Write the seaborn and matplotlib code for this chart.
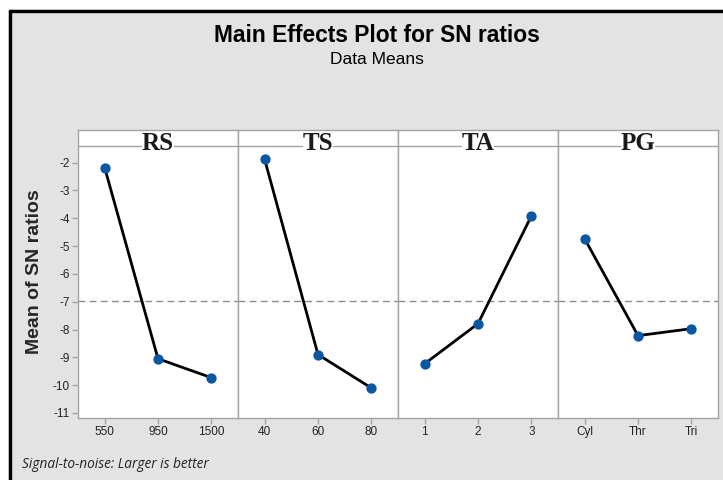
import matplotlib
matplotlib.use("Agg")
import matplotlib.pyplot as plt
import seaborn as sns
import pandas as pd

# factors and their levels, mean SN ratios
factors = ["RS", "TS", "TA", "PG"]
levels = [["550", "950", "1500"],
          ["40", "60", "80"],
          ["1", "2", "3"],
          ["Cyl", "Thr", "Tri"]]
sn_rs = [-2.18, -9.05, -9.73]
sn_ts = [-1.89, -8.90, -10.10]
sn_ta = [-9.23, -7.79, -3.92]
sn_pg = [-4.74, -8.22, -7.97]
sn_values = [sn_rs, sn_ts, sn_ta, sn_pg]
y_ticks = [-2, -3, -4, -5, -6, -7, -8, -9, -10, -11]

rows = []
for f, lv, vals in zip(factors, levels, sn_values):
    for i, (l, v) in enumerate(zip(lv, vals)):
        rows.append({"factor": f, "level": l, "pos": i, "sn": v})
df = pd.DataFrame(rows)
grand_mean = df["sn"].mean()

sns.set_theme(style="white")
plt.rcParams["font.family"] = ["Liberation Sans", "DejaVu Sans"]

bg = "#e3e3e3"
edge = "#a3a3a3"
fig = plt.figure(figsize=(7.23, 4.8), dpi=100, facecolor=bg)

# white strip and black frame along top / left edges
fig.patches.append(plt.Rectangle((0, 1 - 9 / 480), 1, 9 / 480, transform=fig.transFigure,
                                 facecolor="white", edgecolor="none"))
fig.patches.append(plt.Rectangle((0, 0), 8 / 723, 1, transform=fig.transFigure,
                                 facecolor="white", edgecolor="none"))
fig.lines.append(plt.Line2D([9.5 / 723, 1], [1 - 10.5 / 480, 1 - 10.5 / 480],
                            transform=fig.transFigure, color="black", lw=2.4))
fig.lines.append(plt.Line2D([9.5 / 723, 9.5 / 723], [0, 1 - 10.5 / 480],
                            transform=fig.transFigure, color="black", lw=2.4))

ax_left = 78 / 723
ax_w = 160 / 723
ax_bottom = 1 - 418 / 480
ax_h = 288 / 480
strip_frac = (418 - 146) / 288
ymin, ymax = -11.18, -0.83

for k, f in enumerate(factors):
    ax = fig.add_axes([ax_left + k * ax_w, ax_bottom, ax_w, ax_h])
    ax.set_facecolor("white")
    sub = df[df["factor"] == f]
    sns.lineplot(data=sub, x="pos", y="sn", color="black", lw=2.0, ax=ax, zorder=2)
    sns.scatterplot(data=sub, x="pos", y="sn", color="#0b57a4", s=55, edgecolor="#0b57a4",
                    linewidth=0, ax=ax, zorder=3)
    ax.axhline(grand_mean, color="#8c8c8c", lw=1.0, ls=(0, (5, 3)), zorder=1)
    ax.set_xlim(-0.5, 2.5)
    ax.set_ylim(ymin, ymax)
    ax.set_xticks(sub["pos"])
    ax.set_xticklabels(sub["level"], fontsize=8.5, color="#222222")
    ax.set_xlabel("")
    ax.set_ylabel("")
    for s in ax.spines.values():
        s.set_color(edge)
        s.set_linewidth(1.0)
    ax.plot([0, 1], [strip_frac, strip_frac], transform=ax.transAxes, color=edge, lw=1.0,
            clip_on=False)
    ax.text(0.5, strip_frac + 0.01, f, transform=ax.transAxes, ha="center", va="center",
            fontsize=18, fontweight="bold", family=["Liberation Serif"], color="#1a1a1a",
            bbox=dict(facecolor="white", edgecolor="none", pad=0))
    ax.tick_params(axis="x", direction="out", length=4, color=edge, width=1, bottom=True, pad=2)
    if k == 0:
        ax.set_yticks(y_ticks)
        ax.set_yticklabels([str(t) for t in y_ticks], fontsize=8.5, color="#222222")
        ax.tick_params(axis="y", direction="out", length=4, color=edge, width=1, left=True, pad=2)
        ax.set_ylabel("Mean of SN ratios", fontsize=14, fontweight="bold")
        ax.yaxis.set_label_coords(-(78 - 43) / 160, (418 - 272) / 288)
    else:
        ax.set_yticks([])

fig.text(0.521, 1 - 35 / 480, "Main Effects Plot for SN ratios", ha="center", va="center",
         fontsize=16.4, fontweight="bold", color="black")
fig.text(0.521, 1 - 60 / 480, "Data Means", ha="center", va="center", fontsize=12.5,
         color="black")
fig.text(22 / 723, 1 - 464 / 480, "Signal-to-noise: Larger is better", ha="left", va="center",
         fontsize=9.8, style="italic", family=["Open Sans", "DejaVu Sans"], color="#222222")

fig.savefig("out.png", dpi=100, facecolor=bg)
